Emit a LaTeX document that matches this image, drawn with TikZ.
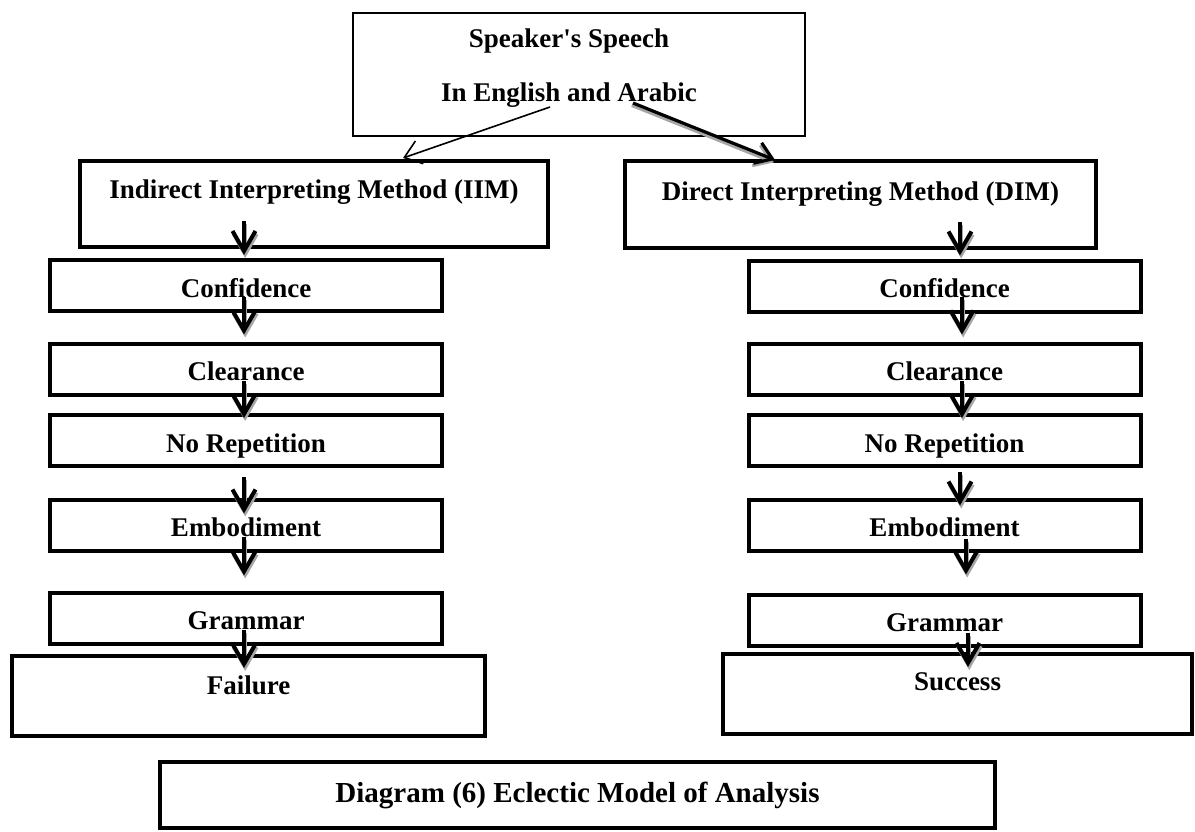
\documentclass[tikz,border=0pt]{standalone}
\usepackage{fontspec}
\setmainfont{Liberation Serif}
\usetikzlibrary{arrows.meta,calc}

\begin{document}
\begin{tikzpicture}[x=0.5pt,y=-0.5pt,
    stage/.style={draw,line width=2pt,inner xsep=2pt,inner ysep=0pt,minimum width=196pt,
      minimum height=25.5pt,text height=18.5pt,text depth=7pt,
      font=\fontsize{13.5}{16.2}\selectfont\bfseries},
    method/.style={stage,minimum height=43pt,text depth=24.5pt},
    ending/.style={stage,minimum height=40pt,text height=19pt,text depth=21pt},
    flow/.style={line width=2pt,-{Straight Barb[length=10pt,width=11.5pt,line width=2pt]},
      preaction={draw=black!35,line width=2pt,-{Straight Barb[length=10pt,width=11.5pt,line width=2pt]},
        transform canvas={shift={(0.6pt,-1.5pt)}}}}]
    \useasboundingbox (0,0) rectangle (1195,831);
%
    \node[draw,line width=0.65pt,inner sep=0pt,minimum width=226pt,minimum height=61.5pt,
      font=\fontsize{13.5}{16.2}\selectfont\bfseries] (speech) at (579,74.5)
      {\begin{tabular}{@{}c@{\hspace{10pt}}}Speaker\textquotesingle s Speech\\[10.8pt]In English and Arabic\\[6pt]\end{tabular}};
    \node[method,minimum width=234pt] (iim) at (314,204) {Indirect Interpreting Method (IIM)};
    \node[method,minimum width=235.5pt,text height=19.5pt,text depth=24pt] (dim) at (860.5,204.5) {Direct Interpreting Method (DIM)};
%
    \draw[line width=0.8pt,-{Straight Barb[length=8pt,width=12pt,line width=0.8pt]}] ($(speech.center)+(-29,32.5)$) -- ($(iim.north)+(89,-1)$);
    \draw[line width=1.6pt,-{Straight Barb[length=8pt,width=11pt,line width=1.6pt]},
      preaction={draw=black!35,line width=1.6pt,-{Straight Barb[length=8pt,width=11pt,line width=1.6pt]},
        transform canvas={shift={(-0.6pt,-1.2pt)}}}] ($(speech.center)+(54,28.5)$) -- ($(dim.north)+(-85.5,1)$);
%
    \node[stage] (confL) at (246,285.5) {Confidence};
    \node[stage] (clearL) at (246,369) {Clearance};
    \node[stage] (repL) at (246,440.5) {No Repetition};
    \node[stage] (embL) at (246,525) {Embodiment};
    \node[stage] (gramL) at (246,618) {Grammar};
    \node[ending,minimum width=236.5pt] (fail) at (248.5,696) {Failure};
%
    \node[stage] (confR) at (944.5,286) {Confidence};
    \node[stage] (clearR) at (944.5,369) {Clearance};
    \node[stage] (repR) at (944.5,440.5) {No Repetition};
    \node[stage] (embR) at (944.5,525) {Embodiment};
    \node[stage] (gramR) at (944.5,620) {Grammar};
    \node[ending,minimum width=234.5pt,text height=17.5pt,text depth=21.5pt] (succ) at (957.5,694) {Success};
%
    \draw[flow] ($(confL.north |- iim.south)+(-2,-28)$) -- ($(confL.north)+(-2,-3)$);
    \draw[flow] ($(confL.south)+(-2,-16)$) -- ($(clearL.north)+(-2,-7)$);
    \draw[flow] ($(clearL.south)+(-2,-16)$) -- ($(repL.north)+(-2,5)$);
    \draw[flow] ($(repL.south)+(-2,9)$) -- ($(embL.north)+(-2,16)$);
    \draw[flow] ($(embL.south)+(-2,-16)$) -- ($(gramL.north)+(-2,-15)$);
    \draw[flow] ($(gramL.south)+(-2,-16)$) -- ($(fail.north -| gramL.north)+(-2,14)$);
%
    \draw[flow] ($(confR.north |- dim.south)+(15.5,-28)$) -- ($(confR.north)+(15.5,-3)$);
    \draw[flow] ($(confR.south)+(17.5,-17)$) -- ($(clearR.north)+(17.5,-7)$);
    \draw[flow] ($(clearR.south)+(17.5,-16)$) -- ($(repR.north)+(17.5,5)$);
    \draw[flow] ($(repR.south)+(15.5,4)$) -- ($(embR.north)+(15.5,8)$);
    \draw[flow] ($(embR.south)+(21.5,-14)$) -- ($(gramR.north)+(21.5,-18)$);
    \draw[flow] ($(gramR.south)+(23.5,-15)$) -- ($(succ.north -| gramR.north)+(23.5,15)$);
%
    \node[stage,minimum width=417.5pt,minimum height=33pt,text height=20pt,text depth=13pt,
      font=\fontsize{14.5}{17.4}\selectfont\bfseries] (caption) at (577.5,795) {Diagram (6) Eclectic Model of Analysis};
\end{tikzpicture}
\end{document}
